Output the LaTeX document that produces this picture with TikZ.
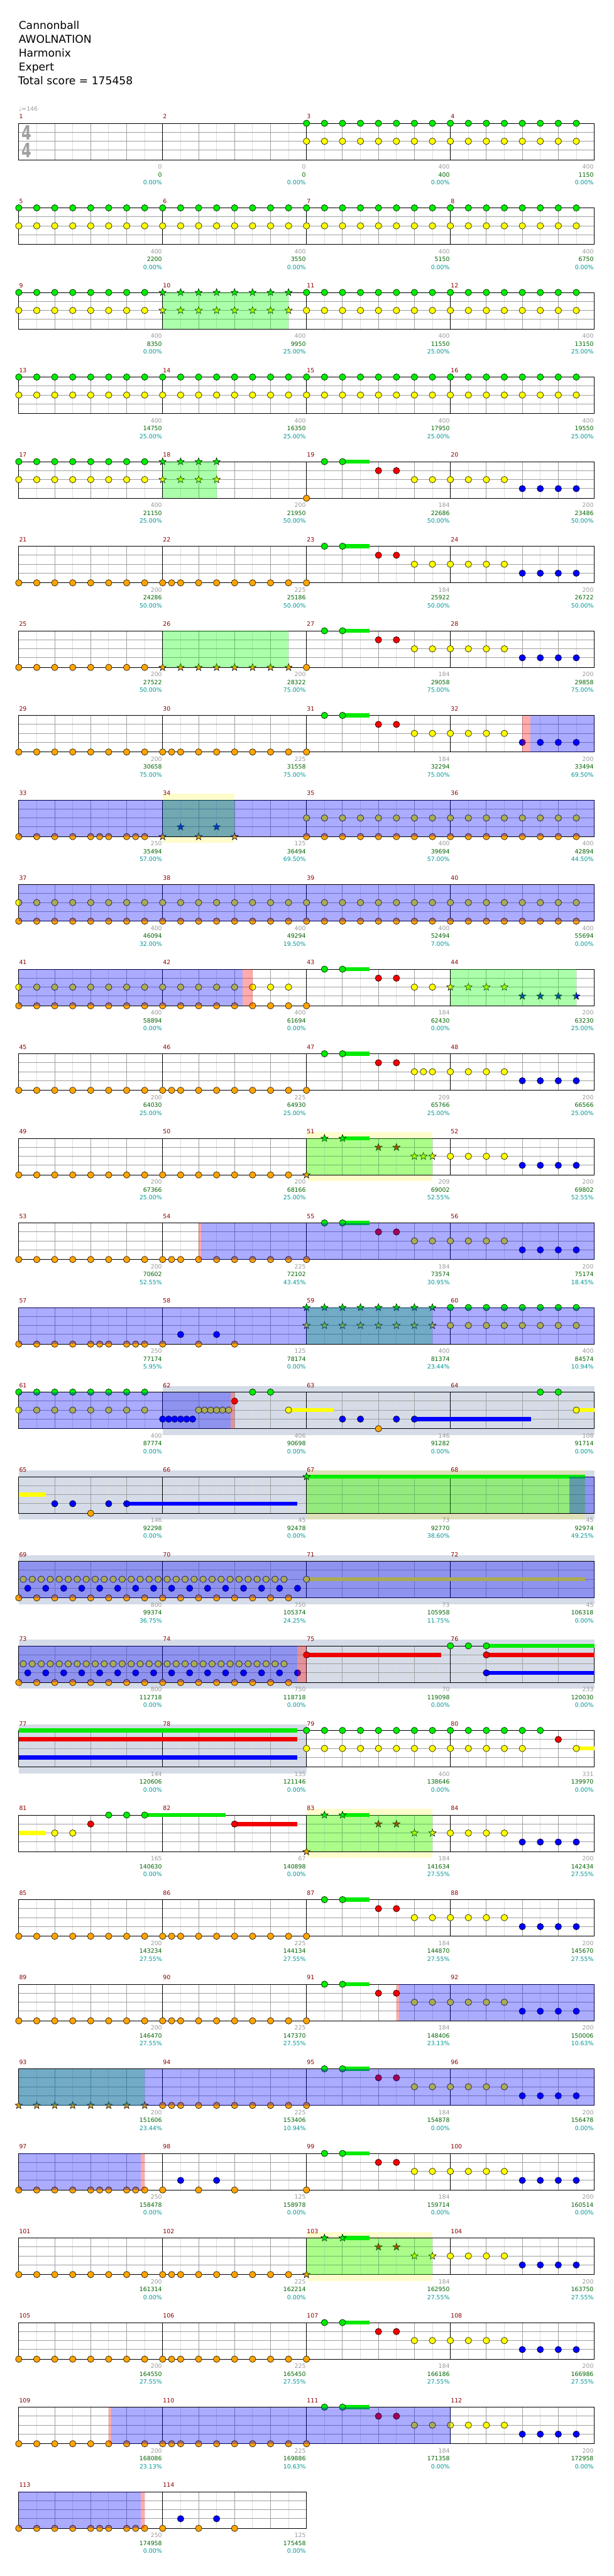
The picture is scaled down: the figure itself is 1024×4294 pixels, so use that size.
\documentclass[tikz,border=0pt]{standalone}
\usepackage{fontspec}
\setmainfont{DejaVu Sans}

\definecolor{lane0}{RGB}{0,235,0}
\definecolor{lane1}{RGB}{240,0,0}
\definecolor{lane2}{RGB}{255,255,0}
\definecolor{lane3}{RGB}{0,0,255}
\definecolor{lane4}{RGB}{255,165,0}
\definecolor{barred}{RGB}{139,0,0}
\definecolor{scoregrey}{RGB}{155,155,155}
\definecolor{totgreen}{RGB}{0,100,0}
\definecolor{pctteal}{RGB}{0,150,150}
\definecolor{bandgrey}{RGB}{213,220,232}
\definecolor{gridgrey}{RGB}{160,160,160}
\definecolor{gridlight}{RGB}{222,222,222}

\tikzset{
  gem/.style={draw=black,line width=.6pt},
  spzone/.style={fill={rgb,255:red,0;green,255;blue,0},fill opacity=.33},
  odzone/.style={fill=blue,fill opacity=.33},
  odedge/.style={fill=red,fill opacity=.33},
  soloband/.style={fill=bandgrey},
  spband/.style={fill=yellow,fill opacity=.2},
  smalltext/.style={inner sep=0pt,font=\fontsize{9.8}{10}\selectfont},
  barno/.style={smalltext,anchor=base west,text=barred},
  lblscore/.style={smalltext,anchor=base east,text=scoregrey},
  lbltotal/.style={smalltext,anchor=base east,text=totgreen},
  lblpct/.style={smalltext,anchor=base east,text=pctteal},
  titletext/.style={inner sep=0pt,anchor=base west,font=\fontsize{18}{20}\selectfont},
  timesig/.style={inner sep=0pt,text=gridgrey,font=\fontsize{33}{33}\selectfont\bfseries}
}

% measure -> left edge \mX and staff top \mY
\newcommand\mpos[1]{%
  \pgfmathtruncatemacro\mR{(#1-1)/4}%
  \pgfmathtruncatemacro\mC{#1-1-4*\mR}%
  \pgfmathsetmacro\mX{31.3+240*\mC}%
  \pgfmathsetmacro\mY{205.5+141*\mR}}
% notes: measure, lane, eighth positions
\newcommand\nts[3]{\mpos{#1}%
  \foreach \p in {#3}{\filldraw[gem,fill=lane#2] ({\mX+30*\p},{\mY+15*#2+(#2>3)}) circle (5.4);}}
\newcommand\sts[3]{\mpos{#1}%
  \foreach \p in {#3}{\filldraw[gem,fill=lane#2,shift={({\mX+30*\p},{\mY+15*#2+(#2>3)})}]
    (-90:6.4)--(-54:2.6)--(-18:6.4)--(18:2.6)--(54:6.4)--(90:2.6)--(126:6.4)--(162:2.6)--(198:6.4)--(234:2.6)--cycle;}}
\newcommand\sus[4]{\mpos{#1}%
  \fill[lane#2] ({\mX+30*#3},{\mY+15*#2+(#2>3)-3.5}) rectangle ({\mX+30*#4},{\mY+15*#2+(#2>3)+3.5});}
\newcommand\zone[4]{\mpos{#2}\fill[#1] ({\mX+30*#3},\mY) rectangle ({\mX+30*#4},{\mY+61});}
\newcommand\band[4]{\mpos{#2}\fill[#1] ({\mX+30*#3},{\mY-10.5}) rectangle ({\mX+30*#4},{\mY+71.5});}
% staff row: top y, number of measures
\newcommand\staff[2]{%
  \pgfmathtruncatemacro\lastk{8*#2-1}%
  \pgfmathtruncatemacro\lastb{#2-1}%
  \pgfmathsetmacro\rowend{31.3+240*#2}%
  \foreach \k in {1,3,...,\lastk} \draw[gridlight,line width=1pt] ({31.3+30*\k},#1) -- ++(0,61);
  \foreach \k in {2,4,...,\lastk} \draw[gridgrey,line width=1pt] ({31.3+30*\k},#1) -- ++(0,61);
  \foreach \dy in {15,30,45} \draw[gridgrey,line width=1pt] (31.3,{#1+\dy}) -- (\rowend,{#1+\dy});
  \foreach \k in {1,...,\lastb} \draw[line width=1pt] ({31.3+240*\k},#1) -- ++(0,61);
  \draw[line width=1pt] (31.3,#1) rectangle (\rowend,{#1+61});}
% recurring figures
\newcommand\riff[2]{\sus{#1}{0}{2}{3.5}%
  #2{#1}{4}{0}#2{#1}{0}{1,2}#2{#1}{1}{4,5}#2{#1}{2}{6,7}%
  \nts{#1+1}{2}{0,...,3}\nts{#1+1}{3}{4,...,7}}
\newcommand\orun[1]{\nts{#1}{4}{0,...,7}\nts{#1+1}{4}{0,0.5,1,2,...,7}}
\newcommand\ofill[1]{\nts{#1}{4}{0,1,2,3,4,4.5,5,6,6.5,7}\nts{#1+1}{4}{0,2,4}\nts{#1+1}{3}{1,3}}
\newcommand\roll[1]{%
  \nts{#1}{4}{0,...,7}\nts{#1}{3}{0.5,1.5,...,7.5}\nts{#1}{2}{0.25,0.75,...,7.75}%
  \nts{#1+1}{4}{0,...,7}\nts{#1+1}{3}{0.5,1.5,...,7.5}\nts{#1+1}{2}{0.25,0.75,...,6.75}}

\begin{document}
\begin{tikzpicture}[x=1pt,y=-1pt]
  \fill[white] (0,0) rectangle (1024,4294);
  \useasboundingbox (0,0) rectangle (1024,4294);

  \node[titletext] (song) at (31,49) {Cannonball};
  \node[titletext] (artist) at (31,72) {AWOLNATION};
  \node[titletext] (charter) at (31,95) {Harmonix};
  \node[titletext] (level) at (31,118) {Expert};
  \node[titletext] (totalscore) at (30,141) {Total score = 175458};

  % bands behind the staves
  \band{soloband}{62}{0}{24}
  \band{soloband}{65}{0}{32}
  \band{soloband}{69}{0}{32}
  \band{soloband}{73}{0}{32}
  \band{soloband}{77}{0}{16}
  \band{spband}{34}{0}{4}
  \band{spband}{51}{0}{7}
  \band{spband}{67}{0}{15.5}
  \band{spband}{83}{0}{7}
  \band{spband}{103}{0}{7}

  % staves
  \foreach \rw in {0,...,27}{
    \pgfmathsetmacro\ty{205.5+141*\rw}
    \staff{\ty}{4}
  }
  \staff{4153.5}{2}
  \node[lblscore,anchor=base west] (tempo) at (31.3,185.5) {♩=146};
  \node[timesig] (tsigtop) at (44.7,221) {\scalebox{.72}[1]{4}};
  \node[timesig] (tsigbot) at (44.7,251) {\scalebox{.72}[1]{4}};

  % notes
  \foreach \m in {3,4,5,6,7,8,9,11,12,13,14,15,16,17,60,61,79}{\nts{\m}{0}{0,...,7}\nts{\m}{2}{0,...,7}}
  \sts{10}{0}{0,...,7}\sts{10}{2}{0,...,7}
  \sts{18}{0}{0,...,3}\sts{18}{2}{0,...,3}
  \sts{59}{0}{0,...,7}\sts{59}{2}{0,...,7}
  \foreach \m in {19,23,27,31,47,55,87,91,95,99,107,111}{\riff{\m}{\nts}}
  \nts{47}{2}{6.5}
  \riff{51}{\sts}\sts{51}{2}{6.5}
  \riff{83}{\sts}
  \riff{103}{\sts}
  \foreach \m in {21,29,45,53,85,89,101,105,109}{\orun{\m}}
  \nts{25}{4}{0,...,7}\sts{26}{4}{0,...,7}
  \nts{49}{4}{0,...,7}\nts{50}{4}{0,...,7}
  \sts{93}{4}{0,...,7}\nts{94}{4}{0,0.5,1,2,...,7}
  \foreach \m in {57,97,113}{\ofill{\m}}
  \nts{33}{4}{0,1,2,3,4,4.5,5,6,6.5,7}\sts{34}{4}{0,2,4}\sts{34}{3}{1,3}
  \foreach \m in {35,...,42}{\nts{\m}{2}{0,...,7}\nts{\m}{4}{0,...,7}}
  \sus{43}{0}{2}{3.5}\nts{43}{4}{0}\nts{43}{0}{1,2}\nts{43}{1}{4,5}\nts{43}{2}{6,7}
  \sts{44}{2}{0,...,3}\sts{44}{3}{4,...,7}
  % 61-68
  \nts{62}{3}{0,0.333,0.667,1,1.333,1.667}\nts{62}{2}{2,2.333,2.667,3,3.333,3.667}
  \nts{62}{1}{4}\nts{62}{0}{5,6}\sus{62}{2}{7}{9.5}\nts{62}{2}{7}
  \sus{63}{3}{6}{12.5}\nts{63}{3}{2,3,5,6}\nts{63}{4}{4}
  \nts{64}{0}{5,6}\sus{64}{2}{7}{8}\nts{64}{2}{7}
  \sus{65}{2}{0}{1.5}\sus{65}{3}{6}{15.5}\nts{65}{3}{2,3,5,6}\nts{65}{4}{4}
  \sus{67}{0}{0}{15.5}\sts{67}{0}{0}
  % 69-82
  \roll{69}
  \sus{71}{2}{0}{15.5}\nts{71}{2}{0}
  \roll{73}
  \sus{75}{1}{0}{7.5}\nts{75}{1}{0}
  \sus{76}{0}{2}{8}\sus{76}{1}{2}{8}\sus{76}{3}{2}{8}
  \nts{76}{0}{0,1,2}\nts{76}{1}{2}\nts{76}{3}{2}
  \sus{77}{0}{0}{15.5}\sus{77}{1}{0}{15.5}\sus{77}{3}{0}{15.5}
  \nts{80}{0}{0,...,5}\nts{80}{2}{0,...,4}\nts{80}{1}{6}\sus{80}{2}{7}{8}\nts{80}{2}{7}
  \sus{81}{2}{0}{1.5}\nts{81}{2}{2,3}\nts{81}{1}{4}\sus{81}{0}{7}{11.5}\nts{81}{0}{5,6,7}
  \sus{82}{1}{4}{7.5}\nts{82}{1}{4}

  % star power phrases
  \foreach \m/\e in {10/7,18/3,26/7,34/4,44/7,51/7,59/7,67/15.5,83/7,93/7,103/7}{\zone{spzone}{\m}{0}{\e}}
  % overdrive
  \zone{odzone}{32}{4.45}{8}
  \zone{odzone}{33}{0}{32}
  \zone{odzone}{37}{0}{32}
  \zone{odzone}{41}{0}{12.46}
  \zone{odzone}{54}{2.13}{24}
  \zone{odzone}{57}{0}{32}
  \zone{odzone}{61}{0}{11.78}
  \zone{odzone}{68}{6.63}{8}
  \zone{odzone}{69}{0}{32}
  \zone{odzone}{73}{0}{15.48}
  \zone{odzone}{91}{5.15}{16}
  \zone{odzone}{93}{0}{32}
  \zone{odzone}{97}{0}{6.78}
  \zone{odzone}{109}{5.15}{24}
  \zone{odzone}{113}{0}{6.8}
  \foreach \m/\s/\e in {32/4/4.45,42/4.46/5,54/2/2.13,62/3.78/4,74/7.48/8,91/5/5.15,97/6.78/7,109/5/5.15,113/6.8/7}{\zone{odedge}{\m}{\s}{\e}}

  % bar numbers and scores
  \foreach \m/\scr/\tot/\pct in {
    1/0/0/0.00, 2/0/0/0.00, 3/400/400/0.00, 4/400/1150/0.00,
    5/400/2200/0.00, 6/400/3550/0.00, 7/400/5150/0.00, 8/400/6750/0.00,
    9/400/8350/0.00, 10/400/9950/25.00, 11/400/11550/25.00, 12/400/13150/25.00,
    13/400/14750/25.00, 14/400/16350/25.00, 15/400/17950/25.00, 16/400/19550/25.00,
    17/400/21150/25.00, 18/200/21950/50.00, 19/184/22686/50.00, 20/200/23486/50.00,
    21/200/24286/50.00, 22/225/25186/50.00, 23/184/25922/50.00, 24/200/26722/50.00,
    25/200/27522/50.00, 26/200/28322/75.00, 27/184/29058/75.00, 28/200/29858/75.00,
    29/200/30658/75.00, 30/225/31558/75.00, 31/184/32294/75.00, 32/200/33494/69.50,
    33/250/35494/57.00, 34/125/36494/69.50, 35/400/39694/57.00, 36/400/42894/44.50,
    37/400/46094/32.00, 38/400/49294/19.50, 39/400/52494/7.00, 40/400/55694/0.00,
    41/400/58894/0.00, 42/400/61694/0.00, 43/184/62430/0.00, 44/200/63230/25.00,
    45/200/64030/25.00, 46/225/64930/25.00, 47/209/65766/25.00, 48/200/66566/25.00,
    49/200/67366/25.00, 50/200/68166/25.00, 51/209/69002/52.55, 52/200/69802/52.55,
    53/200/70602/52.55, 54/225/72102/43.45, 55/184/73574/30.95, 56/200/75174/18.45,
    57/250/77174/5.95, 58/125/78174/0.00, 59/400/81374/23.44, 60/400/84574/10.94,
    61/400/87774/0.00, 62/406/90698/0.00, 63/146/91282/0.00, 64/108/91714/0.00,
    65/146/92298/0.00, 66/45/92478/0.00, 67/73/92770/38.60, 68/45/92974/49.25,
    69/800/99374/36.75, 70/750/105374/24.25, 71/73/105958/11.75, 72/45/106318/0.00,
    73/800/112718/0.00, 74/750/118718/0.00, 75/70/119098/0.00, 76/233/120030/0.00,
    77/144/120606/0.00, 78/135/121146/0.00, 79/400/138646/0.00, 80/331/139970/0.00,
    81/165/140630/0.00, 82/67/140898/0.00, 83/184/141634/27.55, 84/200/142434/27.55,
    85/200/143234/27.55, 86/225/144134/27.55, 87/184/144870/27.55, 88/200/145670/27.55,
    89/200/146470/27.55, 90/225/147370/27.55, 91/184/148406/23.13, 92/200/150006/10.63,
    93/200/151606/23.44, 94/225/153406/10.94, 95/184/154878/0.00, 96/200/156478/0.00,
    97/250/158478/0.00, 98/125/158978/0.00, 99/184/159714/0.00, 100/200/160514/0.00,
    101/200/161314/0.00, 102/225/162214/0.00, 103/184/162950/27.55, 104/200/163750/27.55,
    105/200/164550/27.55, 106/225/165450/27.55, 107/184/166186/27.55, 108/200/166986/27.55,
    109/200/168086/23.13, 110/225/169886/10.63, 111/184/171358/0.00, 112/200/172958/0.00,
    113/250/174958/0.00, 114/125/175458/0.00}{
    \mpos{\m}
    \node[barno] (bar\m) at ({\mX+0.5},{\mY-7.5}) {\m};
    \node[lblscore] (score\m) at ({\mX+239},{\mY+76.4}) {\scr};
    \node[lbltotal] (total\m) at ({\mX+239},{\mY+89.4}) {\tot};
    \node[lblpct] (pct\m) at ({\mX+239},{\mY+102.4}) {\pct\%};
  }
\end{tikzpicture}
\end{document}
